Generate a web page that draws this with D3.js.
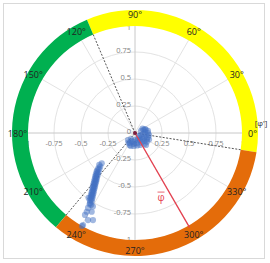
<!DOCTYPE html>
<html>
<head>
<meta charset="utf-8">
<script src="https://cdn.jsdelivr.net/npm/d3@7"></script>
<style>
  body { margin: 0; background: #fff; }
  text { font-family: "Open Sans", "Liberation Sans", sans-serif; }
</style>
</head>
<body>
<div id="chart"></div>
<script>
// axis ticks of the underlying x/y scatter
const axisTicks = [-1, -0.75, -0.5, -0.25, 0, 0.25, 0.5, 0.75, 1];
const gridRadii = [0.25, 0.5, 0.75, 1];
// angle labels round the ring (degrees, ccw from 0 at the right)
const angleTicks = [0, 30, 60, 90, 120, 150, 180, 210, 240, 270, 300, 330];
// coloured sectors and their boundaries
const sectorStart = [-9, 113, 230];
const sectorEnd = [113, 230, 351];
const sectorColors = ['#ffff00', '#00b050', '#e46c0a'];
const boundaries = [113, 230, 351];
const meanAngle = 300;

// measured points [x, y]
const cluster = [
  [0.056, 0.019], [0.093, 0.037], [0.120, 0.019], [0.130, -0.019], [0.111, -0.056],
  [0.083, -0.074], [0.046, -0.065], [0.037, -0.028], [0.074, -0.009], [0.102, -0.019],
  [0.065, -0.037], [0.093, 0.009], [0.102, -0.111], [0.046, -0.111],
  [-0.065, -0.065], [-0.046, -0.093], [-0.009, -0.102], [0.019, -0.093],
  [-0.037, -0.056], [0.000, -0.065], [0.028, -0.065], [-0.019, -0.083],
  [0.080, 0.030], [0.120, -0.040], [0.060, -0.090], [-0.050, -0.110],
  [0.100, 0.030], [0.120, 0.000], [0.085, -0.045], [0.110, -0.080], [0.070, -0.060],
  [0.050, -0.020], [0.030, -0.050], [-0.060, -0.090], [-0.030, -0.075], [-0.010, -0.120],
  [0.020, -0.115], [-0.040, -0.120], [0.070, 0.040], [0.130, -0.060], [0.090, -0.100]
];
const streak = [
  [-0.308, -0.281], [-0.331, -0.296], [-0.322, -0.310], [-0.340, -0.327], [-0.330, -0.335],
  [-0.348, -0.345], [-0.355, -0.358], [-0.338, -0.362], [-0.350, -0.372], [-0.362, -0.380],
  [-0.345, -0.388], [-0.358, -0.395], [-0.368, -0.402], [-0.352, -0.410], [-0.362, -0.418],
  [-0.372, -0.425], [-0.356, -0.432], [-0.366, -0.440], [-0.378, -0.446], [-0.360, -0.452],
  [-0.372, -0.460], [-0.382, -0.466], [-0.366, -0.472], [-0.376, -0.480], [-0.388, -0.486],
  [-0.370, -0.494], [-0.382, -0.500], [-0.392, -0.508], [-0.375, -0.515], [-0.386, -0.522],
  [-0.396, -0.530], [-0.380, -0.538], [-0.392, -0.546], [-0.402, -0.552], [-0.385, -0.560],
  [-0.398, -0.568], [-0.408, -0.575], [-0.390, -0.582], [-0.402, -0.590], [-0.412, -0.598],
  [-0.395, -0.605], [-0.405, -0.615], [-0.418, -0.622], [-0.400, -0.632], [-0.430, -0.600],
  [-0.417, -0.648], [-0.420, -0.660], [-0.390, -0.680], [-0.405, -0.665], [-0.435, -0.694],
  [-0.447, -0.729], [-0.401, -0.729], [-0.463, -0.759], [-0.389, -0.806], [-0.435, -0.806],
  [-0.481, -0.852], [-0.491, -0.861]
];

const width = 270, height = 263;
const cx = 135, cy = 133;
const rInner = 107, rOuter = 123;

const x = d3.scaleLinear().domain([-1, 1]).range([cx - 108, cx + 108]);
const y = d3.scaleLinear().domain([-1, 1]).range([cy + 108, cy - 108]);
const r = d3.scaleLinear().domain([0, 1]).range([0, 108]);

const rad = a => a * Math.PI / 180;
const px = (a, rr) => cx + rr * Math.cos(rad(a));
const py = (a, rr) => cy - rr * Math.sin(rad(a));

const svg = d3.select('#chart')
  .append('svg')
  .attr('width', width)
  .attr('height', height);

svg.append('rect')
  .attr('x', 3.5).attr('y', 3.5)
  .attr('width', 261).attr('height', 255)
  .attr('fill', '#fff')
  .attr('stroke', '#d9d9d9');

//grid circles and spokes
svg.append('g').selectAll('circle')
  .data(gridRadii)
  .enter().append('circle')
  .attr('cx', cx).attr('cy', cy)
  .attr('r', d => r(d))
  .attr('fill', 'none')
  .attr('stroke', '#e3e3e3');

svg.append('g').selectAll('line')
  .data(angleTicks.filter(d => d % 90 !== 0))
  .enter().append('line')
  .attr('x1', cx).attr('y1', cy)
  .attr('x2', d => px(d, r(1)))
  .attr('y2', d => py(d, r(1)))
  .attr('stroke', '#e3e3e3');

//axes
svg.append('line')
  .attr('x1', x(-1)).attr('x2', x(1))
  .attr('y1', y(0)).attr('y2', y(0))
  .attr('stroke', '#c8c8c8');
svg.append('line')
  .attr('x1', x(0)).attr('x2', x(0))
  .attr('y1', y(-1)).attr('y2', y(1))
  .attr('stroke', '#c8c8c8');

const tickGroup = svg.append('g')
  .attr('font-size', 7.5)
  .attr('fill', '#7f7f7f');

tickGroup.selectAll('.xTick')
  .data(axisTicks)
  .enter().append('text')
  .attr('class', 'xTick')
  .attr('x', d => x(d))
  .attr('y', y(0) + 13)
  .attr('text-anchor', 'middle')
  .text(d => d);

tickGroup.selectAll('.yTick')
  .data(axisTicks)
  .enter().append('text')
  .attr('class', 'yTick')
  .attr('x', x(0) - 4)
  .attr('y', d => y(d) + (d === 1 ? 4.5 : 1))
  .attr('text-anchor', 'end')
  .text(d => d);

//coloured ring
const arc = d3.arc()
  .innerRadius(rInner)
  .outerRadius(rOuter);

svg.append('g')
  .attr('transform', 'translate(' + cx + ',' + cy + ')')
  .selectAll('path')
  .data(sectorStart)
  .enter().append('path')
  .attr('d', (d, i) => arc({startAngle: rad(90 - sectorEnd[i]), endAngle: rad(90 - d)}))
  .attr('fill', (d, i) => sectorColors[i]);

svg.append('g')
  .attr('font-size', 9)
  .attr('fill', '#222')
  .selectAll('text')
  .data(angleTicks)
  .enter().append('text')
  .attr('x', d => px(d, d === 90 ? 118.5 : 117.5))
  .attr('y', d => py(d, d === 90 ? 118.5 : 117.5))
  .attr('text-anchor', 'middle')
  .attr('dominant-baseline', 'central')
  .text(d => d + '°');

svg.append('text')
  .attr('x', 261).attr('y', 126)
  .attr('font-size', 8)
  .attr('fill', '#333')
  .attr('text-anchor', 'middle')
  .text("[φ']");

//sector boundaries
svg.append('g').selectAll('line')
  .data(boundaries)
  .enter().append('line')
  .attr('x1', cx).attr('y1', cy)
  .attr('x2', d => px(d, rInner))
  .attr('y2', d => py(d, rInner))
  .attr('stroke', '#555')
  .attr('stroke-width', 1)
  .attr('stroke-dasharray', '2,1.5');

//points
svg.append('g').selectAll('circle')
  .data(streak.concat(cluster))
  .enter().append('circle')
  .attr('cx', d => x(d[0]))
  .attr('cy', d => y(d[1]))
  .attr('r', 3.1)
  .attr('fill', '#4472c4')
  .attr('fill-opacity', 0.5);

//mean direction
svg.append('line')
  .attr('x1', cx).attr('y1', cy)
  .attr('x2', px(meanAngle, rInner + 2))
  .attr('y2', py(meanAngle, rInner + 2))
  .attr('stroke', '#e5404f')
  .attr('stroke-width', 1.3);

svg.append('circle')
  .attr('cx', cx).attr('cy', cy)
  .attr('r', 2)
  .attr('fill', '#7a2040');

const labelX = px(meanAngle, 74) - 11, labelY = py(meanAngle, 74);
svg.append('text')
  .attr('x', labelX).attr('y', labelY + 4)
  .attr('font-size', 10)
  .attr('fill', '#e5404f')
  .attr('text-anchor', 'middle')
  .text('φ');
svg.append('line')
  .attr('x1', labelX - 3.5).attr('x2', labelX + 3.5)
  .attr('y1', labelY - 5).attr('y2', labelY - 5)
  .attr('stroke', '#e5404f')
  .attr('stroke-width', 0.8);
</script>
</body>
</html>
